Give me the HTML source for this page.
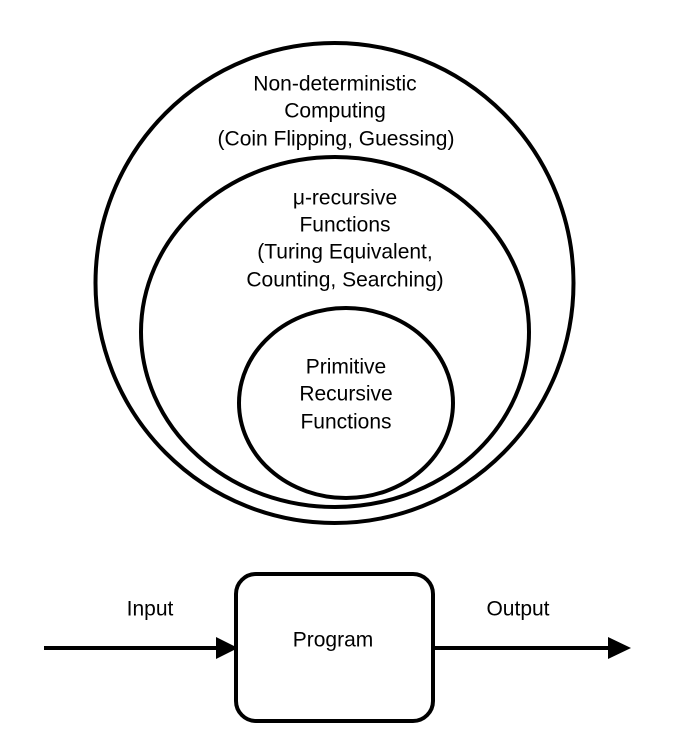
<!DOCTYPE html>
<html><head><meta charset="utf-8"><style>
html,body{margin:0;padding:0;background:#fff;}
svg{display:block;}
text{font-family:"Liberation Sans",Arial,sans-serif;font-size:21px;fill:#000;text-anchor:middle;dominant-baseline:central;}
</style></head><body>
<svg width="693" height="746" viewBox="0 0 693 746">
<g fill="none" stroke="#000" stroke-width="4">
<ellipse cx="334.5" cy="283" rx="239" ry="240"/>
<ellipse cx="335" cy="332" rx="194" ry="175"/>
<ellipse cx="346" cy="403" rx="107" ry="95"/>
<rect x="236" y="574" width="197" height="147" rx="20" ry="20"/>
<line x1="44" y1="648" x2="220" y2="648"/>
<line x1="433" y1="648" x2="612" y2="648"/>
</g>
<polygon points="216,637 238,648 216,659" fill="#000"/>
<polygon points="608,637 631,648 608,659" fill="#000"/>
<text x="335" y="84">Non-deterministic</text>
<text x="335" y="111">Computing</text>
<text x="336" y="139">(Coin Flipping, Guessing)</text>
<text x="345" y="198">μ-recursive</text>
<text x="345" y="225">Functions</text>
<text x="345" y="252">(Turing Equivalent,</text>
<text x="345" y="280">Counting, Searching)</text>
<text x="346" y="367">Primitive</text>
<text x="346" y="394">Recursive</text>
<text x="346" y="422">Functions</text>
<text x="150" y="609">Input</text>
<text x="518" y="609">Output</text>
<text x="333" y="640">Program</text>
</svg>
</body></html>
